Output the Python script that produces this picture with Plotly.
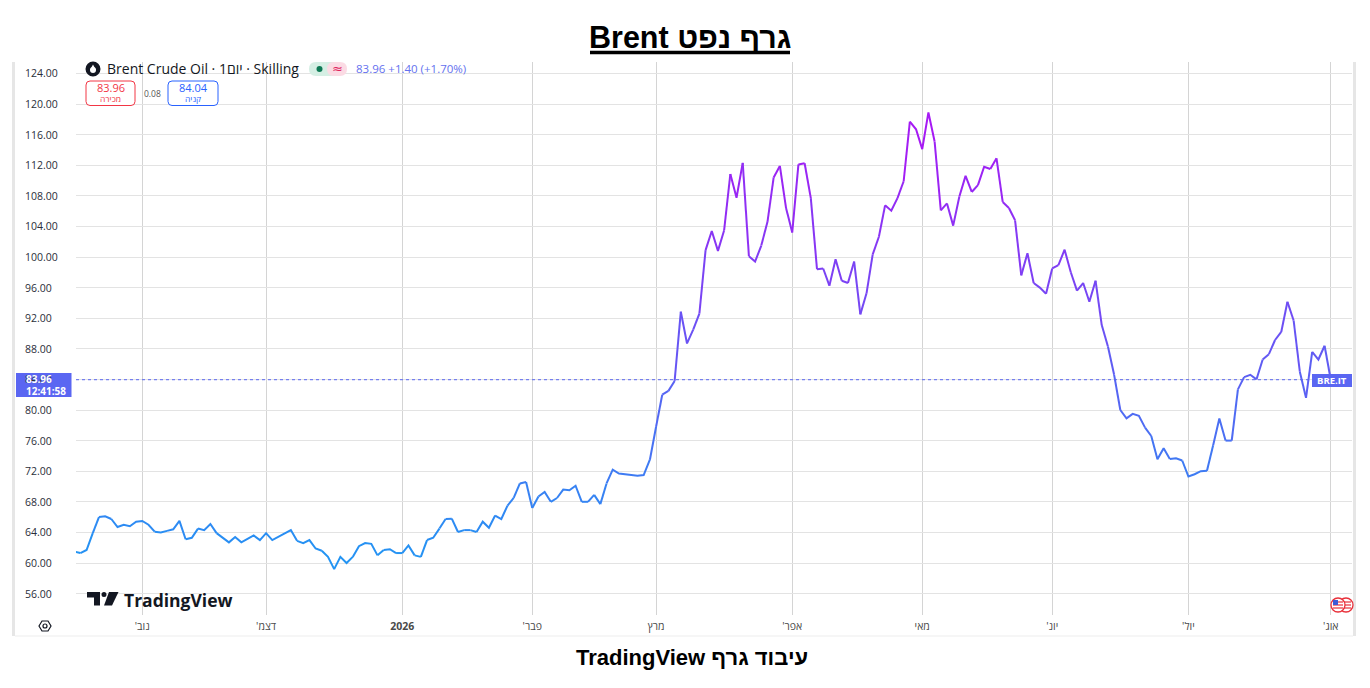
import pandas as pd
import plotly.graph_objects as go

# ---------------- data ----------------
start_date = "2025-10-17"
end_date = "2026-08-03"
exchange_holidays = ["2025-12-25", "2026-01-01", "2026-04-03"]

oct_2025 = [61.5, 61.3, 61.7, 63.9, 66.0, 66.1, 65.75, 64.7, 65.0, 64.8, 65.4]
nov_2025 = [65.5, 65.0, 64.1, 64.0, 64.2, 64.4, 65.5, 63.1, 63.3, 64.5,
            64.3, 65.1, 63.9, 63.3, 62.7, 63.4, 62.7, 63.15, 63.6, 63.0]
dec_2025 = [63.9, 63.0, 63.4, 63.8, 64.3, 62.9, 62.6, 63.0, 61.9, 61.6,
            60.8, 59.2, 60.8, 60.0, 60.8, 62.2, 62.6, 62.5, 61.0, 61.7, 61.8, 61.3]
jan_2026 = [61.3, 62.3, 61.0, 60.8, 63.0, 63.3, 64.5, 65.75, 65.8, 64.05,
            64.3, 64.3, 64.05, 65.4, 64.6, 66.2, 65.75, 67.5, 68.5, 70.4, 70.6]
feb_2026 = [67.2, 68.7, 69.3, 68.0, 68.5, 69.6, 69.5, 70.1, 68.0, 68.0,
            68.9, 67.7, 70.4, 72.2, 71.7, 71.6, 71.5, 71.4, 71.5, 73.5]
mar_2026 = [77.8, 82.0, 82.5, 83.8, 92.85, 88.7, 90.5, 92.6, 100.9, 103.4,
            100.8, 103.5, 110.85, 107.75, 112.3, 100.1, 99.4, 101.5, 104.6, 110.4, 111.9, 106.4]
apr_2026 = [103.2, 112.1, 112.25, 107.7, 98.4, 98.5, 96.25, 99.7, 96.9, 96.6,
            99.4, 92.5, 95.25, 100.35, 102.65, 106.75, 106.05, 107.7, 109.9, 117.7, 116.7]
may_2026 = [114.1, 118.9, 115.1, 106.1, 107.0, 104.1, 107.9, 110.6, 108.5, 109.4,
            111.8, 111.5, 112.9, 107.2, 106.4, 104.8, 97.6, 100.5, 96.6, 96.0, 95.2]
jun_2026 = [98.5, 98.95, 100.95, 98.0, 95.6, 96.6, 94.15, 96.9, 91.1, 88.3,
            84.6, 80.0, 78.9, 79.5, 79.25, 77.7, 76.6, 73.55, 75.0, 73.6, 73.7, 73.4]
jul_2026 = [71.3, 71.6, 72.0, 72.05, 75.4, 78.9, 76.0, 76.0, 82.7, 84.3,
            84.6, 84.0, 86.6, 87.3, 89.15, 90.2, 94.15, 91.7, 85.0, 81.6, 87.6, 86.6, 88.4]
aug_2026 = [83.96]

month_labels = ["נוב'", "דצמ'", "2026", "פבר'", "מרץ", "אפר'", "מאי", "יונ'", "יול'", "אוג'"]
y_ticks = [56, 60, 64, 68, 72, 76, 80, 84, 88, 92, 96, 100, 104, 108, 112, 116, 120, 124]

last_price = 83.96
bid_price = 83.96
ask_price = 84.04
spread = "0.08"
change_text = "83.96 +1.40 (+1.70%)"
clock_text = "12:41:58"

# ---------------- build series ----------------
values = (oct_2025 + nov_2025 + dec_2025 + jan_2026 + feb_2026 + mar_2026 +
          apr_2026 + may_2026 + jun_2026 + jul_2026 + aug_2026)
dates = pd.bdate_range(start_date, end_date, freq="C", holidays=exchange_holidays)
dates = [d.strftime("%Y-%m-%d") for d in dates]
assert len(dates) == len(values), (len(dates), len(values))

# first trading day of each month (from November on)
tick_dates = []
seen = set()
for d in dates:
    ym = d[:7]
    if ym not in seen:
        seen.add(ym)
        tick_dates.append(d)
tick_dates = tick_dates[1:]


def tick_display(lbl):
    # the SVG renderer lays a Hebrew-only label out right-to-left, which would put
    # a trailing geresh on the left; leading it keeps it on the right, as drawn.
    if lbl.endswith("'"):
        return "'" + lbl[:-1]
    if lbl.isdigit():
        return f"<b>{lbl}</b>"
    return lbl


# ---------------- geometry helpers (pixel -> paper) ----------------
W, H = 1370, 688
PL, PR, PT, PB = 76, 1352, 62, 615


def fx(x):
    return (x - PL) / (PR - PL)


def fy(y):
    return (PB - y) / (PB - PT)


def rrect_path(x0, y0, x1, y1, r):
    p = [("M", x0 + r, y0), ("L", x1 - r, y0), ("Q", x1, y0, x1, y0 + r),
         ("L", x1, y1 - r), ("Q", x1, y1, x1 - r, y1), ("L", x0 + r, y1),
         ("Q", x0, y1, x0, y1 - r), ("L", x0, y0 + r), ("Q", x0, y0, x0 + r, y0)]
    out = []
    for seg in p:
        cmd, nums = seg[0], seg[1:]
        pts = []
        for k in range(0, len(nums), 2):
            pts.append(f"{fx(nums[k])},{fy(nums[k + 1])}")
        out.append(cmd + " " + " ".join(pts))
    return " ".join(out) + " Z"


PX_PER_BAR = 6.19
FIRST_BAR_PX = 74.2
x_lo = (PL - FIRST_BAR_PX) / PX_PER_BAR
x_hi = (PR - FIRST_BAR_PX) / PX_PER_BAR
y_per_px = 1 / 7.65
y_top = 60 + (563 - PT) * y_per_px
y_bot = y_top - (PB - PT) * y_per_px

# ---------------- gradient line ----------------
c_lo = (33, 150, 243)
c_hi = (168, 24, 244)
g_lo, g_hi = 60.0, 116.0
NBINS = 40


def bin_of(v):
    t = (v - g_lo) / (g_hi - g_lo)
    return max(0, min(NBINS - 1, int(t * NBINS)))


def color_of(b):
    t = (b + 0.5) / NBINS
    r, g, bl = [round(a + (c - a) * t) for a, c in zip(c_lo, c_hi)]
    return f"rgb({r},{g},{bl})"


fig = go.Figure()
segs = []
i = 0
n = len(values)
while i < n - 1:
    b = bin_of((values[i] + values[i + 1]) / 2)
    j = i + 1
    while j < n - 1 and bin_of((values[j] + values[j + 1]) / 2) == b:
        j += 1
    segs.append((i, j, b))
    i = j

for (i0, i1, b) in segs:
    fig.add_trace(go.Scatter(
        x=dates[i0:i1 + 1], y=values[i0:i1 + 1], mode="lines",
        line=dict(color=color_of(b), width=2), hoverinfo="skip", showlegend=False))

# ---------------- layout ----------------
FONT_UI = "Open Sans, DejaVu Sans, sans-serif"
FONT_AR = "Liberation Sans, Arial, DejaVu Sans, sans-serif"
BLUE_TAG = "#5a66f2"

fig.update_layout(
    width=W, height=H, autosize=False,
    margin=dict(l=PL, r=W - PR, t=PT, b=H - PB, pad=0),
    paper_bgcolor="white", plot_bgcolor="white",
    font=dict(family=FONT_UI, size=11, color="#131722"),
    xaxis=dict(type="category", categoryorder="array", categoryarray=dates,
               range=[x_lo, x_hi], tickmode="array", tickvals=tick_dates,
               ticktext=[tick_display(t) for t in month_labels], showgrid=True,
               gridcolor="#d4d4d4", gridwidth=1,
               showline=False, zeroline=False, ticks="", ticklabelstandoff=3,
               tickfont=dict(size=10.5, color="#4a4a4a", family=FONT_UI)),
    yaxis=dict(range=[y_bot, y_top], tickmode="array", tickvals=y_ticks,
               showticklabels=False, showgrid=True, gridcolor="#e3e3e3", gridwidth=1,
               showline=False, zeroline=False, ticks=""),
)

ann = []
shapes = []

# y tick labels (left aligned like the reference)
for v in y_ticks:
    ann.append(dict(x=fx(23), xref="paper", y=v, yref="y", text=f"{v:.2f}",
                    xanchor="left", yanchor="middle", showarrow=False,
                    font=dict(size=10.5, color="#2a2e39", family=FONT_UI)))

# title + underline
ann.append(dict(x=fx(690), y=fy(37), xref="paper", yref="paper",
                text="<b>\u202bגרף נפט Brent\u202c</b>", showarrow=False,
                xanchor="center", yanchor="middle",
                font=dict(size=30.5, color="black", family=FONT_AR)))
shapes.append(dict(type="line", xref="paper", yref="paper", x0=fx(590), x1=fx(790),
                   y0=fy(52.5), y1=fy(52.5), line=dict(color="black", width=3.5)))

# footer
ann.append(dict(x=fx(692), y=fy(657), xref="paper", yref="paper",
                text="<b>\u202bעיבוד גרף TradingView\u202c</b>", showarrow=False,
                xanchor="center", yanchor="middle",
                font=dict(size=22, color="black", family=FONT_AR)))

# panel borders
shapes.append(dict(type="rect", xref="paper", yref="paper", x0=fx(12), x1=fx(15),
                   y0=fy(636), y1=fy(62), fillcolor="#e6e6e6", line=dict(width=0), layer="below"))
shapes.append(dict(type="rect", xref="paper", yref="paper", x0=fx(1353), x1=fx(1356),
                   y0=fy(636), y1=fy(62), fillcolor="#e6e6e6", line=dict(width=0), layer="below"))
shapes.append(dict(type="line", xref="paper", yref="paper", x0=fx(15), x1=fx(1353),
                   y0=fy(636), y1=fy(636), line=dict(color="#ededed", width=1)))

# header legend row
shapes.append(dict(type="circle", xref="paper", yref="paper", x0=fx(85.5), x1=fx(100.5),
                   y0=fy(76.5), y1=fy(61.5), fillcolor="#131722", line=dict(width=0)))
shapes.append(dict(type="path", xref="paper", yref="paper",
                   path=f"M {fx(93)},{fy(64.5)} L {fx(96)},{fy(70)} L {fx(90)},{fy(70)} Z",
                   fillcolor="white", line=dict(width=0)))
shapes.append(dict(type="circle", xref="paper", yref="paper", x0=fx(90), x1=fx(96),
                   y0=fy(73), y1=fy(67), fillcolor="white", line=dict(width=0)))
ann.append(dict(x=fx(105), y=fy(69), xref="paper", yref="paper",
                text="Brent Crude Oil · 1יום · Skilling", showarrow=False,
                xanchor="left", yanchor="middle",
                font=dict(size=14, color="#131722", family=FONT_UI)))
shapes.append(dict(type="path", xref="paper", yref="paper", path=rrect_path(309, 62, 340, 76, 7),
                   fillcolor="#d5efe4", line=dict(width=0)))
shapes.append(dict(type="path", xref="paper", yref="paper", path=rrect_path(327, 62, 347, 76, 7),
                   fillcolor="#fbdbe4", line=dict(width=0)))
shapes.append(dict(type="circle", xref="paper", yref="paper", x0=fx(316.5), x1=fx(322.5),
                   y0=fy(72), y1=fy(66), fillcolor="#0e7a55", line=dict(width=0)))
ann.append(dict(x=fx(337), y=fy(69), xref="paper", yref="paper", text="≈",
                showarrow=False, xanchor="center", yanchor="middle",
                font=dict(size=13, color="#e0245e", family="DejaVu Sans")))
ann.append(dict(x=fx(354), y=fy(69), xref="paper", yref="paper", text=change_text,
                showarrow=False, xanchor="left", yanchor="middle",
                font=dict(size=11.5, color="#6471ef", family=FONT_UI)))

# bid / ask boxes
shapes.append(dict(type="path", xref="paper", yref="paper", path=rrect_path(86, 81, 135, 105.5, 4),
                   fillcolor="white", line=dict(color="#f23645", width=1)))
ann.append(dict(x=fx(110.5), y=fy(88), xref="paper", yref="paper", text=f"{bid_price:.2f}",
                showarrow=False, xanchor="center", yanchor="middle",
                font=dict(size=11, color="#f23645", family=FONT_UI)))
ann.append(dict(x=fx(110.5), y=fy(99), xref="paper", yref="paper", text="מכירה",
                showarrow=False, xanchor="center", yanchor="middle",
                font=dict(size=8.5, color="#f23645", family=FONT_UI)))
ann.append(dict(x=fx(152), y=fy(93.5), xref="paper", yref="paper", text=spread,
                showarrow=False, xanchor="center", yanchor="middle",
                font=dict(size=8.5, color="#555555", family=FONT_UI)))
shapes.append(dict(type="path", xref="paper", yref="paper", path=rrect_path(168, 81, 218, 105.5, 4),
                   fillcolor="white", line=dict(color="#2962ff", width=1)))
ann.append(dict(x=fx(193), y=fy(88), xref="paper", yref="paper", text=f"{ask_price:.2f}",
                showarrow=False, xanchor="center", yanchor="middle",
                font=dict(size=11, color="#2962ff", family=FONT_UI)))
ann.append(dict(x=fx(193), y=fy(99), xref="paper", yref="paper", text="קניה",
                showarrow=False, xanchor="center", yanchor="middle",
                font=dict(size=8.5, color="#2962ff", family=FONT_UI)))

# last price line + labels
shapes.append(dict(type="line", xref="paper", yref="y", x0=0, x1=1, y0=last_price, y1=last_price,
                   line=dict(color=BLUE_TAG, width=1, dash="dot")))
shapes.append(dict(type="rect", xref="paper", yref="paper", x0=fx(16), x1=fx(71.5),
                   y0=fy(397), y1=fy(373), fillcolor=BLUE_TAG, line=dict(width=0)))
ann.append(dict(x=fx(24), y=fy(379.5), xref="paper", yref="paper", text=f"<b>{last_price:.2f}</b>",
                showarrow=False, xanchor="left", yanchor="middle",
                font=dict(size=10, color="white", family=FONT_UI)))
ann.append(dict(x=fx(24), y=fy(391), xref="paper", yref="paper", text=f"<b>{clock_text}</b>",
                showarrow=False, xanchor="left", yanchor="middle",
                font=dict(size=10, color="white", family=FONT_UI)))
shapes.append(dict(type="rect", xref="paper", yref="paper", x0=fx(1312), x1=fx(1352),
                   y0=fy(387), y1=fy(374), fillcolor=BLUE_TAG, line=dict(width=0)))
ann.append(dict(x=fx(1332), y=fy(380.5), xref="paper", yref="paper", text="<b>BRE.IT</b>",
                showarrow=False, xanchor="center", yanchor="middle",
                font=dict(size=9.5, color="white", family=FONT_UI)))

# TradingView watermark logo
shapes.append(dict(type="rect", xref="paper", yref="paper", x0=fx(87), x1=fx(100),
                   y0=fy(597.5), y1=fy(592), fillcolor="#131722", line=dict(width=0)))
shapes.append(dict(type="rect", xref="paper", yref="paper", x0=fx(94), x1=fx(100),
                   y0=fy(605.5), y1=fy(592), fillcolor="#131722", line=dict(width=0)))
shapes.append(dict(type="circle", xref="paper", yref="paper", x0=fx(101.5), x1=fx(106.5),
                   y0=fy(597), y1=fy(592), fillcolor="#131722", line=dict(width=0)))
shapes.append(dict(type="path", xref="paper", yref="paper",
                   path=(f"M {fx(109)},{fy(592)} L {fx(118.5)},{fy(592)} "
                         f"L {fx(112)},{fy(605.5)} L {fx(104)},{fy(605.5)} Z"),
                   fillcolor="#131722", line=dict(width=0)))
ann.append(dict(x=fx(122), y=fy(599.5), xref="paper", yref="paper", text="<b>TradingView</b>",
                showarrow=False, xanchor="left", yanchor="middle",
                font=dict(size=17.5, color="#131722", family=FONT_UI)))

# bottom-left settings icon (hexagon)
hx, hy = 45, 626
hexp = " ".join([
    f"M {fx(hx-6)},{fy(hy)}", f"L {fx(hx-3)},{fy(hy-5)}", f"L {fx(hx+3)},{fy(hy-5)}",
    f"L {fx(hx+6)},{fy(hy)}", f"L {fx(hx+3)},{fy(hy+5)}", f"L {fx(hx-3)},{fy(hy+5)} Z"])
shapes.append(dict(type="path", xref="paper", yref="paper", path=hexp,
                   line=dict(color="#131722", width=1.2)))
shapes.append(dict(type="circle", xref="paper", yref="paper", x0=fx(hx-2), x1=fx(hx+2),
                   y0=fy(hy+2), y1=fy(hy-2), line=dict(color="#131722", width=1.2)))

# flag icons bottom-right
for cx in (1346, 1338):
    shapes.append(dict(type="circle", xref="paper", yref="paper", x0=fx(cx-7), x1=fx(cx+7),
                       y0=fy(612), y1=fy(598), fillcolor="white", line=dict(color="#e8303a", width=1.3)))
    for yy in (602, 605, 608):
        shapes.append(dict(type="line", xref="paper", yref="paper", x0=fx(cx-5), x1=fx(cx+5),
                           y0=fy(yy), y1=fy(yy), line=dict(color="#e8303a", width=1.2)))
shapes.append(dict(type="rect", xref="paper", yref="paper", x0=fx(1333), x1=fx(1338),
                   y0=fy(605), y1=fy(600), fillcolor="#3b5bd6", line=dict(width=0)))

fig.update_layout(annotations=ann, shapes=shapes)

fig.write_html("out.html", config={"displayModeBar": False},
               post_script="document.body.style.margin='0';document.body.style.overflow='hidden';")
